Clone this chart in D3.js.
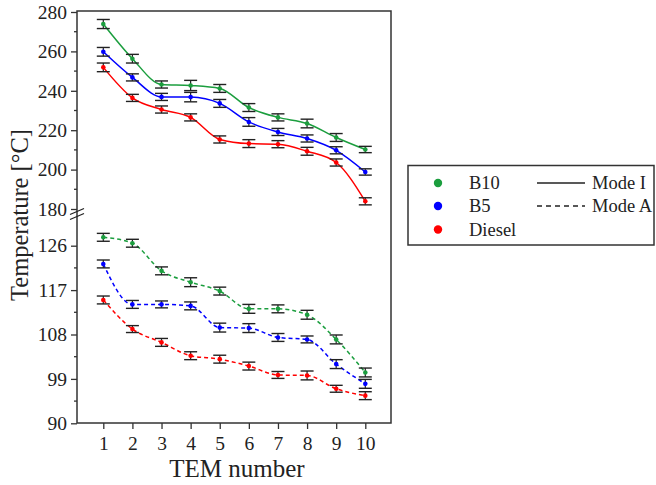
<!DOCTYPE html>
<html>
<head>
<meta charset="utf-8">
<script src="https://cdn.jsdelivr.net/npm/d3@7"></script>
<style>
  body { margin: 0; background: #fff; }
  text { font-family: "Liberation Serif", "Times New Roman", Tinos, "DejaVu Serif", serif; fill: #222; }
</style>
</head>
<body>
<div class="chart"></div>
<script>
var tem = [1, 2, 3, 4, 5, 6, 7, 8, 9, 10];

// Mode I (solid, upper panel)
var b10ModeI    = [273.9, 256.3, 243.2, 242.7, 241.2, 231.5, 226.5, 223.4, 216.3, 210.2];
var b5ModeI     = [259.8, 246.8, 236.9, 236.8, 233.6, 224.2, 219.1, 215.8, 209.8, 198.8];
var dieselModeI = [251.9, 236.4, 230.5, 226.5, 215.3, 213.2, 212.9, 209.3, 203.6, 183.9];
var b10ErrI     = [2.3, 2.2, 1.8, 2.6, 2.0, 2.0, 1.8, 2.2, 2.0, 1.6];
var b5ErrI      = [2.2, 1.8, 1.8, 2.4, 2.0, 2.2, 1.8, 1.8, 1.8, 1.6];
var dieselErrI  = [2.2, 1.8, 1.8, 1.8, 1.8, 2.0, 1.8, 2.0, 1.8, 1.8];

// Mode A (dashed, lower panel)
var b10ModeA    = [127.7, 126.5, 120.9, 118.6, 116.8, 113.2, 113.2, 112.0, 107.0, 100.3];
var b5ModeA     = [122.3, 114.1, 114.1, 113.8, 109.4, 109.3, 107.4, 107.0, 102.0, 98.0];
var dieselModeA = [115.0, 109.1, 106.4, 103.7, 103.0, 101.6, 99.8, 99.7, 97.0, 95.6];
var b10ErrA     = [0.8, 0.8, 0.8, 0.9, 0.8, 0.9, 0.8, 0.9, 0.9, 0.9];
var b5ErrA      = [0.8, 0.8, 0.7, 0.8, 0.9, 0.9, 0.8, 0.7, 0.9, 0.9];
var dieselErrA  = [0.8, 0.7, 0.8, 0.8, 0.8, 0.8, 0.7, 0.9, 0.7, 0.8];

var topTicks = [180, 200, 220, 240, 260, 280];
var bottomTicks = [90, 99, 108, 117, 126];

var fuels = ["B10", "B5", "Diesel"];
var colors = {B10: "#1b9e3e", B5: "#0000ff", Diesel: "#ff0000"};
var modes = ["Mode I", "Mode A"];

var width = 656, height = 485;
var plotL = 77, plotR = 391, plotT = 11, plotB = 423;
var breakY = 214;
var serif = "'Liberation Serif', 'Times New Roman', Tinos, 'DejaVu Serif', serif";

var svg = d3.select(".chart").append("svg")
    .attr("width", width)
    .attr("height", height);

var x = d3.scaleLinear().domain([1, 10]).range([103.3, 365.3]);
var yTop = d3.scaleLinear().domain([180, 280]).range([209, 12]);
var yBot = d3.scaleLinear().domain([90, 126]).range([423.3, 245.7]);

// frame
svg.append("rect")
    .attr("x", plotL).attr("y", plotT)
    .attr("width", plotR - plotL).attr("height", plotB - plotT)
    .attr("fill", "none")
    .attr("stroke", "#333")
    .attr("stroke-width", 1.5);

// y axes
var axTop = svg.append("g")
    .attr("transform", "translate(" + plotL + ",0)")
    .call(d3.axisLeft(yTop).tickValues(topTicks).tickSize(6).tickPadding(4));
var axBot = svg.append("g")
    .attr("transform", "translate(" + plotL + ",0)")
    .call(d3.axisLeft(yBot).tickValues(bottomTicks).tickSize(6).tickPadding(4));

[axTop, axBot].forEach(function(ax){
  ax.attr("font-family", serif);
  ax.select(".domain").remove();
  ax.selectAll("line").attr("stroke", "#333").attr("stroke-width", 1.3);
  ax.selectAll("text").style("font-size", "19.5px").attr("fill", "#222");
});

// minor ticks
var minorTop = [190, 210, 230, 250, 270];
var minorBot = [94.5, 103.5, 112.5, 121.5];
svg.selectAll(".minor-top").data(minorTop).enter().append("line")
    .attr("x1", plotL - 3).attr("x2", plotL)
    .attr("y1", function(d){ return yTop(d); })
    .attr("y2", function(d){ return yTop(d); })
    .attr("stroke", "#333").attr("stroke-width", 1.3);
svg.selectAll(".minor-bot").data(minorBot).enter().append("line")
    .attr("x1", plotL - 3).attr("x2", plotL)
    .attr("y1", function(d){ return yBot(d); })
    .attr("y2", function(d){ return yBot(d); })
    .attr("stroke", "#333").attr("stroke-width", 1.3);

// break marks
[-2.5, 2.5].forEach(function(o){
  svg.append("line")
      .attr("x1", plotL - 7).attr("x2", plotL + 7)
      .attr("y1", breakY + o + 3).attr("y2", breakY + o - 3)
      .attr("stroke", "#222").attr("stroke-width", 1.3);
});

// x axis
var axX = svg.append("g")
    .attr("transform", "translate(0," + plotB + ")")
    .call(d3.axisBottom(x).tickValues(tem).tickSize(6).tickPadding(7).tickFormat(d3.format("d")));
axX.attr("font-family", serif);
axX.select(".domain").remove();
axX.selectAll("line").attr("stroke", "#333").attr("stroke-width", 1.3);
axX.selectAll("text").style("font-size", "19.5px").attr("fill", "#222");

// titles
svg.append("text")
    .attr("x", 237).attr("y", 477)
    .attr("text-anchor", "middle")
    .style("font-size", "25px")
    .text("TEM number");
svg.append("text")
    .attr("transform", "translate(28,215) rotate(-90)")
    .attr("text-anchor", "middle")
    .style("font-size", "24.5px")
    .text("Temperature [°C]");

var series = [
  {fuel: "B10", vals: b10ModeI, err: b10ErrI, y: yTop, dash: null},
  {fuel: "B5", vals: b5ModeI, err: b5ErrI, y: yTop, dash: null},
  {fuel: "Diesel", vals: dieselModeI, err: dieselErrI, y: yTop, dash: null},
  {fuel: "B10", vals: b10ModeA, err: b10ErrA, y: yBot, dash: "4,3"},
  {fuel: "B5", vals: b5ModeA, err: b5ErrA, y: yBot, dash: "4,3"},
  {fuel: "Diesel", vals: dieselModeA, err: dieselErrA, y: yBot, dash: "4,3"}
];

series.forEach(function(s){
  var pts = tem.map(function(t, i){ return {t: t, v: s.vals[i], e: s.err[i]}; });
  var line = d3.line()
      .x(function(d){ return x(d.t); })
      .y(function(d){ return s.y(d.v); })
      .curve(d3.curveMonotoneX);
  svg.append("path")
      .datum(pts)
      .attr("d", line)
      .attr("fill", "none")
      .attr("stroke", colors[s.fuel])
      .attr("stroke-width", 1.5)
      .attr("stroke-dasharray", s.dash);

  var g = svg.append("g");
  var eb = g.selectAll("g").data(pts).enter().append("g");
  eb.append("line")
      .attr("x1", function(d){ return x(d.t); })
      .attr("x2", function(d){ return x(d.t); })
      .attr("y1", function(d){ return s.y(d.v - d.e); })
      .attr("y2", function(d){ return s.y(d.v + d.e); })
      .attr("stroke", "#222").attr("stroke-width", 1.2);
  [-1, 1].forEach(function(k){
    eb.append("line")
        .attr("x1", function(d){ return x(d.t) - 6.5; })
        .attr("x2", function(d){ return x(d.t) + 6.5; })
        .attr("y1", function(d){ return s.y(d.v + k * d.e); })
        .attr("y2", function(d){ return s.y(d.v + k * d.e); })
        .attr("stroke", "#222").attr("stroke-width", 1.4);
  });
  g.selectAll("circle").data(pts).enter().append("circle")
      .attr("cx", function(d){ return x(d.t); })
      .attr("cy", function(d){ return s.y(d.v); })
      .attr("r", 2.3)
      .attr("fill", colors[s.fuel]);
});

// legend
var leg = svg.append("g");
leg.append("rect")
    .attr("x", 408).attr("y", 165.5)
    .attr("width", 246).attr("height", 79.5)
    .attr("fill", "#fff")
    .attr("stroke", "#333").attr("stroke-width", 1.5);
var legRows = [183, 206, 229.5];
fuels.forEach(function(f, i){
  leg.append("circle")
      .attr("cx", 438).attr("cy", legRows[i])
      .attr("r", 4.2)
      .attr("fill", colors[f]);
  leg.append("text")
      .attr("x", 469).attr("y", legRows[i] + 6)
      .style("font-size", "18.5px")
      .text(f);
});
modes.forEach(function(m, i){
  leg.append("line")
      .attr("x1", 537).attr("x2", 585)
      .attr("y1", legRows[i]).attr("y2", legRows[i])
      .attr("stroke", "#222").attr("stroke-width", 1.3)
      .attr("stroke-dasharray", i === 1 ? "5,4" : null);
  leg.append("text")
      .attr("x", 592).attr("y", legRows[i] + 6)
      .style("font-size", "18.5px")
      .text(m);
});
</script>
</body>
</html>
